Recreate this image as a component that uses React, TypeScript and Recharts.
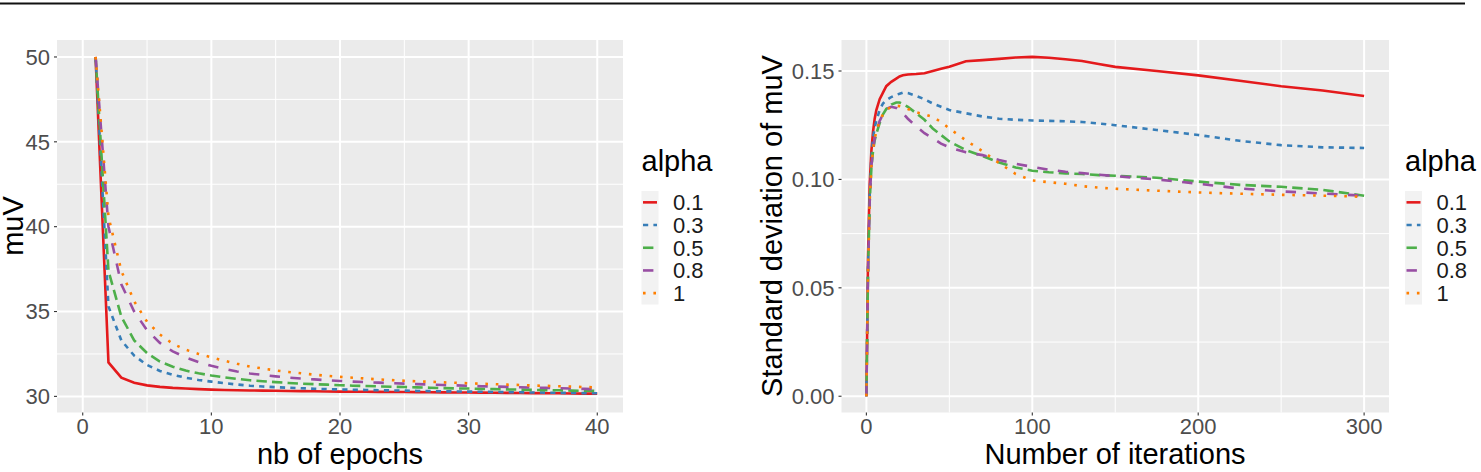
import React from 'react';
import { LineChart, Line, XAxis, YAxis, CartesianGrid } from 'recharts';

const FONT = '"Liberation Sans", Arial, sans-serif';

// legend entries (alpha values) and their ggplot-like styles
const alphaLabels = ['0.1', '0.3', '0.5', '0.8', '1'];
const seriesKeys = ['a01', 'a03', 'a05', 'a08', 'a1'];
const colors = ['#E41A1C', '#377EB8', '#4DAF4A', '#984EA3', '#FF7F00'];
const dashes = ['', '5.2 5.2', '10.4 5.2', '10.4 10.4', '2.6 7.8'];

// left panel: muV vs nb of epochs
const epochs = [1, 2, 3, 4, 5, 6, 7, 8, 9, 10, 11, 12, 13, 14, 15, 16, 17, 18, 19, 20, 21, 22, 23, 24, 25, 26, 27, 28, 29, 30, 31, 32, 33, 34, 35, 36, 37, 38, 39, 40];
const muV01 = [50, 32.0, 31.1, 30.8, 30.65, 30.56, 30.5, 30.46, 30.43, 30.4, 30.38, 30.36, 30.35, 30.34, 30.33, 30.32, 30.31, 30.3, 30.29, 30.28, 30.275, 30.27, 30.265, 30.26, 30.255, 30.25, 30.24, 30.235, 30.23, 30.225, 30.22, 30.21, 30.205, 30.2, 30.19, 30.185, 30.18, 30.17, 30.165, 30.16];
const muV03 = [50, 35.3, 33.3, 32.4, 31.85, 31.5, 31.27, 31.1, 30.97, 30.87, 30.78, 30.7, 30.63, 30.58, 30.54, 30.51, 30.48, 30.45, 30.43, 30.41, 30.39, 30.38, 30.36, 30.35, 30.34, 30.32, 30.31, 30.3, 30.29, 30.28, 30.27, 30.26, 30.25, 30.24, 30.23, 30.22, 30.21, 30.2, 30.19, 30.18];
const muV05 = [50, 37.4, 34.7, 33.3, 32.55, 32.05, 31.75, 31.52, 31.36, 31.23, 31.12, 31.03, 30.95, 30.89, 30.84, 30.79, 30.75, 30.72, 30.69, 30.66, 30.63, 30.61, 30.59, 30.57, 30.55, 30.53, 30.51, 30.49, 30.47, 30.46, 30.44, 30.43, 30.41, 30.4, 30.38, 30.37, 30.36, 30.34, 30.33, 30.32];
const muV08 = [50, 40.0, 36.6, 35.0, 33.9, 33.15, 32.65, 32.3, 32.02, 31.8, 31.62, 31.47, 31.35, 31.26, 31.18, 31.11, 31.05, 31.0, 30.95, 30.91, 30.87, 30.84, 30.81, 30.78, 30.75, 30.72, 30.7, 30.67, 30.65, 30.62, 30.6, 30.58, 30.56, 30.54, 30.52, 30.5, 30.48, 30.46, 30.44, 30.42];
const muV1 = [50, 40.6, 37.4, 35.6, 34.4, 33.65, 33.1, 32.75, 32.5, 32.3, 32.1, 31.92, 31.76, 31.64, 31.53, 31.44, 31.36, 31.28, 31.21, 31.15, 31.1, 31.05, 31.0, 30.96, 30.92, 30.89, 30.86, 30.83, 30.8, 30.77, 30.74, 30.72, 30.69, 30.67, 30.64, 30.62, 30.6, 30.58, 30.55, 30.53];

// right panel: standard deviation of muV vs number of iterations
const iterations = [0, 1, 2, 3, 4, 5, 6, 8, 10, 12, 15, 18, 20, 22, 25, 30, 35, 40, 45, 50, 60, 70, 80, 90, 100, 110, 120, 130, 140, 150, 175, 200, 225, 250, 275, 300];
const sd01 = [0, 0.065, 0.098, 0.113, 0.122, 0.128, 0.132, 0.137, 0.14, 0.143, 0.145, 0.1465, 0.1475, 0.148, 0.1484, 0.1486, 0.149, 0.15, 0.151, 0.152, 0.1545, 0.155, 0.1556, 0.1562, 0.1565, 0.1561, 0.1554, 0.1546, 0.1532, 0.1519, 0.15, 0.148, 0.1455, 0.143, 0.141, 0.1385];
const sd03 = [0, 0.06, 0.093, 0.11, 0.119, 0.124, 0.127, 0.132, 0.135, 0.1365, 0.138, 0.139, 0.1395, 0.14, 0.1398, 0.1385, 0.137, 0.135, 0.1335, 0.132, 0.1305, 0.129, 0.128, 0.1275, 0.1272, 0.127, 0.1268, 0.1265, 0.1258, 0.125, 0.1228, 0.1205, 0.1178, 0.1158, 0.1148, 0.1145];
const sd05 = [0, 0.058, 0.09, 0.105, 0.113, 0.118, 0.121, 0.126, 0.13, 0.1325, 0.1345, 0.1355, 0.1355, 0.1348, 0.1335, 0.1305, 0.1275, 0.1235, 0.1205, 0.1175, 0.1135, 0.1108, 0.1078, 0.1055, 0.104, 0.1033, 0.1028, 0.1025, 0.102, 0.1017, 0.1008, 0.099, 0.0975, 0.0966, 0.0952, 0.0925];
const sd08 = [0, 0.058, 0.09, 0.106, 0.114, 0.119, 0.122, 0.127, 0.13, 0.1325, 0.1335, 0.133, 0.132, 0.1305, 0.128, 0.1245, 0.1213, 0.119, 0.1165, 0.1148, 0.1125, 0.1112, 0.109, 0.1072, 0.1058, 0.1045, 0.1035, 0.1029, 0.1022, 0.1015, 0.1, 0.098, 0.0958, 0.0945, 0.0935, 0.0925];
const sd1 = [0, 0.058, 0.09, 0.106, 0.114, 0.119, 0.122, 0.127, 0.13, 0.132, 0.1335, 0.134, 0.1338, 0.1335, 0.1325, 0.131, 0.13, 0.1288, 0.1265, 0.1235, 0.118, 0.113, 0.1075, 0.1025, 0.0995, 0.0987, 0.098, 0.0969, 0.0962, 0.0957, 0.0948, 0.094, 0.0934, 0.0929, 0.0925, 0.092];

const epochTicks = [0, 10, 20, 30, 40];
const epochMinor = [5, 15, 25, 35];
const muVTicks = [30, 35, 40, 45, 50];
const muVMinor = [32.5, 37.5, 42.5, 47.5];
const iterTicks = [0, 100, 200, 300];
const iterMinor = [50, 150, 250];
const sdTicks = [0, 0.05, 0.1, 0.15];
const sdMinor = [0.025, 0.075, 0.125];

const leftData = epochs.map((x, i) => ({
  x,
  a01: muV01[i],
  a03: muV03[i],
  a05: muV05[i],
  a08: muV08[i],
  a1: muV1[i],
}));

const rightData = iterations.map((x, i) => ({
  x,
  a01: sd01[i],
  a03: sd03[i],
  a05: sd05[i],
  a08: sd08[i],
  a1: sd1[i],
}));

const tickStyle = { fill: '#4D4D4D', fontSize: 22, fontFamily: FONT };
const tickLine = { stroke: '#333333', strokeWidth: 1.1 };
const TITLE = 29;

const Panel = ({ data, width, yWidth, right, xDomain, xTicks, xMinor, yDomain, yTicks, yMinor, fmt }: any) => (
  <LineChart width={width} height={472} data={data} margin={{ top: 40, right, bottom: 0, left: 0 }}>
    <CartesianGrid fill="#EBEBEB" stroke="#FFFFFF" strokeWidth={1} verticalValues={xMinor} horizontalValues={yMinor} />
    <CartesianGrid stroke="#FFFFFF" strokeWidth={2} verticalValues={xTicks} horizontalValues={yTicks} />
    <XAxis
      dataKey="x"
      type="number"
      domain={xDomain}
      ticks={xTicks}
      height={59.5}
      axisLine={false}
      tickLine={tickLine}
      tickSize={3}
      tickMargin={3}
      tick={tickStyle}
      interval={0}
    />
    <YAxis
      type="number"
      domain={yDomain}
      ticks={yTicks}
      width={yWidth}
      axisLine={false}
      tickLine={tickLine}
      tickSize={3}
      tickMargin={4}
      tick={tickStyle}
      tickFormatter={fmt}
      interval={0}
    />
    {seriesKeys.map((k, i) => (
      <Line
        key={k}
        type="linear"
        dataKey={k}
        stroke={colors[i]}
        strokeWidth={2.6}
        strokeDasharray={dashes[i] || undefined}
        dot={false}
        isAnimationActive={false}
      />
    ))}
  </LineChart>
);

const rowH = 22.7;
const keyTop = 191;

const LegendBlock = ({ x }: { x: number }) => (
  <g>
    <text x={x} y={171} fontSize={TITLE} fill="#000">alpha</text>
    <rect x={x} y={keyTop} width={17} height={rowH * 5} fill="#F2F2F2" />
    {alphaLabels.map((lab, i) => {
      const cy = keyTop + rowH * i + rowH / 2;
      return (
        <g key={lab}>
          <line x1={x + 1.5} x2={x + 15.5} y1={cy} y2={cy} stroke={colors[i]} strokeWidth={2.6} strokeDasharray={dashes[i] || undefined} />
          <text x={x + 31.5} y={cy + 7.8} fontSize={22} fill="#1A1A1A">{lab}</text>
        </g>
      );
    })}
  </g>
);

export default function App() {
  return (
    <div style={{ position: 'absolute', left: 0, top: 0, width: 1481, height: 472, background: '#fff', fontFamily: FONT }}>
      <div style={{ position: 'absolute', left: 0, top: 0 }}>
        <Panel
          data={leftData}
          width={640}
          yWidth={57}
          right={17}
          xDomain={[-2, 42]}
          xTicks={epochTicks}
          xMinor={epochMinor}
          yDomain={[29.05, 51.0]}
          yTicks={muVTicks}
          yMinor={muVMinor}
          fmt={(v: number) => String(v)}
        />
      </div>
      <div style={{ position: 'absolute', left: 700, top: 0 }}>
        <Panel
          data={rightData}
          width={700}
          yWidth={141.5}
          right={11}
          xDomain={[-15, 315]}
          xTicks={iterTicks}
          xMinor={iterMinor}
          yDomain={[-0.0075, 0.1643]}
          yTicks={sdTicks}
          yMinor={sdMinor}
          fmt={(v: number) => v.toFixed(2)}
        />
      </div>
      <svg width={1481} height={472} style={{ position: 'absolute', left: 0, top: 0, pointerEvents: 'none' }} fontFamily={FONT}>
        <line x1={0} x2={1465} y1={3.5} y2={3.5} stroke="#111" strokeWidth={1.8} />
        <text transform="translate(22.5,226) rotate(-90)" textAnchor="middle" fontSize={TITLE} fill="#000">muV</text>
        <text transform="translate(782,226) rotate(-90)" textAnchor="middle" fontSize={TITLE} fill="#000">Standard deviation of muV</text>
        <text x={340} y={464} textAnchor="middle" fontSize={TITLE} fill="#000">nb of epochs</text>
        <text x={1115} y={464} textAnchor="middle" fontSize={TITLE} fill="#000">Number of iterations</text>
        <LegendBlock x={641.5} />
        <LegendBlock x={1405} />
      </svg>
    </div>
  );
}
